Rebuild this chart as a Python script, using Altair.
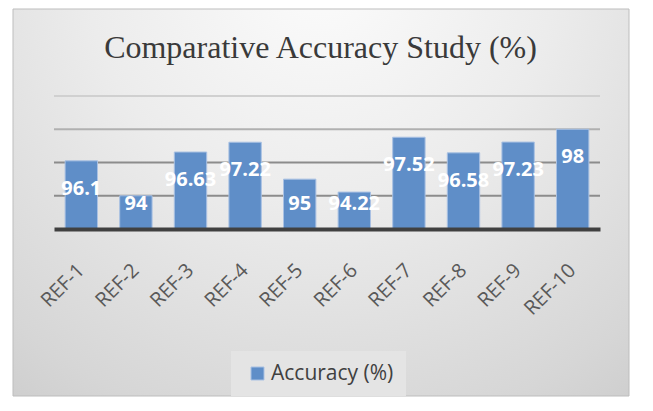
import altair as alt
import pandas as pd

TITLE = "Comparative Accuracy Study (%)"
SERIES = "Accuracy (%)"
categories = ["REF-1", "REF-2", "REF-3", "REF-4", "REF-5",
              "REF-6", "REF-7", "REF-8", "REF-9", "REF-10"]
accuracy = [96.1, 94, 96.63, 97.22, 95, 94.22, 97.52, 96.58, 97.23, 98]
grid_values = [94, 96, 98, 100]
axis_min, axis_max = 92, 100

W, H = 546, 133
BAR = "#5f8ec8"

df = pd.DataFrame({"ref": categories, "acc": accuracy})
df["series"] = SERIES
df["label"] = [f"{v:g}" for v in accuracy]

yscale = alt.Scale(domain=[axis_min, axis_max], zero=False, nice=False)
xscale = alt.Scale(domain=categories, paddingInner=0.407, paddingOuter=0.2035)

bg = alt.Chart(pd.DataFrame({"k": [0]})).mark_rect(
    fill=alt.RadialGradient(
        gradient="radial",
        stops=[alt.GradientStop(color="#fcfcfc", offset=0),
               alt.GradientStop(color="#ececec", offset=0.4),
               alt.GradientStop(color="#d6d6d6", offset=0.8),
               alt.GradientStop(color="#c8c8c8", offset=1)],
        x1=0.5, y1=0.12, r1=0, x2=0.5, y2=0.12, r2=0.95),
    stroke="#bdbdbd", strokeWidth=1,
).encode(x=alt.value(-41), x2=alt.value(575), y=alt.value(-87), y2=alt.value(300))

grid = alt.Chart(pd.DataFrame({"g": grid_values})).transform_calculate(
    gc="datum.g >= 100 ? '#d0d0d0' : (datum.g >= 98 ? '#b0b0b0' : '#8c8c8c')"
).mark_rule(strokeWidth=2).encode(
    y=alt.Y("g:Q", scale=yscale, axis=None),
    stroke=alt.Stroke("gc:N", scale=None, legend=None),
)

bars = alt.Chart(df).mark_bar(stroke="#a9c1e3", strokeWidth=1).encode(
    x=alt.X("ref:N", sort=categories, scale=xscale,
            axis=alt.Axis(title=None, labelAngle=-45, labelAlign="right",
                          labelBaseline="middle", labelFont="Open Sans",
                          labelFontSize=20, labelColor="#595959",
                          labelPadding=38, ticks=False, grid=False,
                          domainColor="#404040", domainWidth=4, zindex=1)),
    y=alt.Y("acc:Q", scale=yscale, axis=None),
    y2=alt.datum(axis_min),
    fill=alt.Fill("series:N", scale=alt.Scale(range=[BAR]),
                  legend=alt.Legend(title=None, orient="none", legendX=177,
                                    legendY=255, fillColor="#e4e4e4",
                                    padding=12, symbolType="square",
                                    symbolSize=169, symbolOffset=4,
                                    symbolStrokeColor="#a9c1e3",
                                    symbolStrokeWidth=1,
                                    labelFont="Open Sans", labelFontSize=21,
                                    labelColor="#404040", labelOffset=3,
                                    zindex=1)),
)

labels = alt.Chart(df).transform_calculate(
    ly="max(datum.acc, 95.18)"
).mark_text(dy=28, font="Open Sans", fontWeight="bold", fontSize=20,
            color="white", baseline="middle", align="center").encode(
    x=alt.X("ref:N", sort=categories, scale=xscale),
    y=alt.Y("ly:Q", scale=yscale, axis=None),
    text="label:N",
)

title = alt.Chart(pd.DataFrame({"t": [TITLE]})).mark_text(
    font="Liberation Serif", fontSize=32, color="#3a3a3a",
    align="center", baseline="alphabetic",
).encode(text="t:N", x=alt.value(266.5), y=alt.value(-38))

chart = alt.layer(bg, grid, bars, labels, title).resolve_scale(
    stroke="independent", fill="independent"
).resolve_legend(stroke="independent", fill="independent").properties(
    width=W, height=H,
    padding={"left": 4, "top": 0, "right": 0, "bottom": 0},
).configure_view(stroke=None)

chart.save("out.html", embed_options={"renderer": "svg", "actions": False})
